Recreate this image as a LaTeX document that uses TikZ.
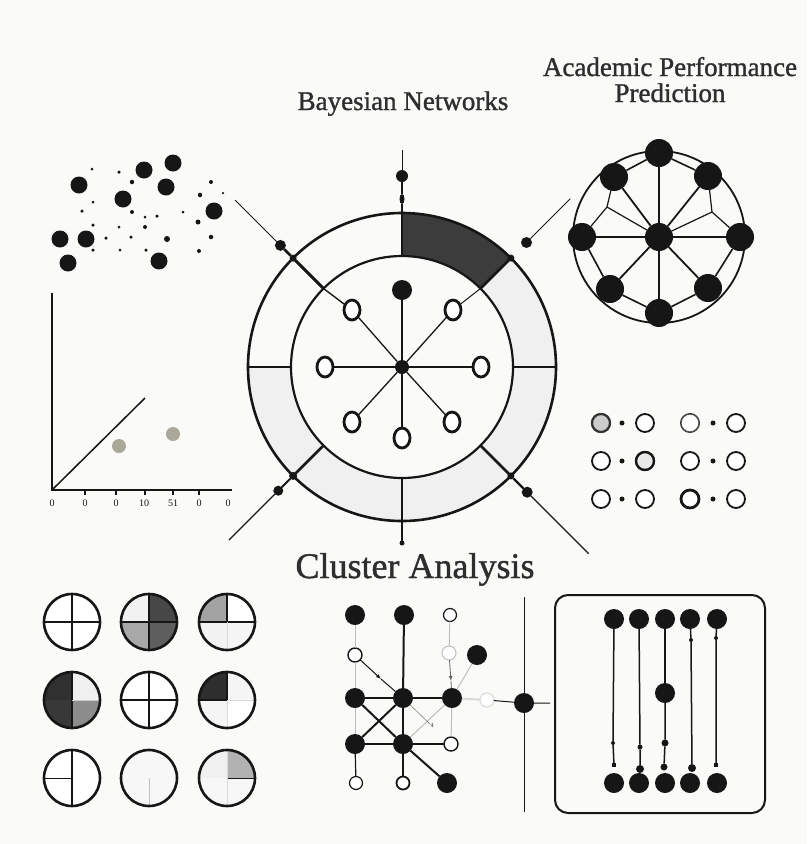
\documentclass[tikz,border=0pt]{standalone}
\usepackage{fontspec}
\setmainfont{Liberation Serif}
\newfontfamily\titlefont{Liberation Serif}[FakeBold=1.2]
\usetikzlibrary{shapes.geometric,arrows.meta}
\definecolor{bg}{HTML}{FAFAF8}
\definecolor{ink}{HTML}{161616}
\definecolor{txt}{HTML}{2E2E2E}
\definecolor{ringlight}{HTML}{F0F0F0}
\definecolor{ringdark}{HTML}{3C3C3C}
\definecolor{plotdot}{HTML}{A9A899}
\definecolor{faint}{HTML}{BDBDBD}
\newcommand\quadcirc[5]{%
  \fill[#2] (#1) -- ++(90:28) arc[start angle=90,end angle=180,radius=28] -- cycle;
  \fill[#3] (#1) -- ++(0:28) arc[start angle=0,end angle=90,radius=28] -- cycle;
  \fill[#4] (#1) -- ++(180:28) arc[start angle=180,end angle=270,radius=28] -- cycle;
  \fill[#5] (#1) -- ++(270:28) arc[start angle=270,end angle=360,radius=28] -- cycle;
}
\begin{document}
\begin{tikzpicture}[x=1pt,y=1pt,
  fdot/.style={circle,fill=ink,draw=none,inner sep=0pt,outer sep=0pt,minimum size=#1},
  odot/.style={circle,draw=ink,fill=white,inner sep=0pt,outer sep=0pt,line width=1.8pt,minimum size=#1},
  oval/.style={ellipse,draw=ink,fill=white,line width=2.8pt,minimum width=16pt,minimum height=20pt,inner sep=0pt,outer sep=0pt},
  thickedge/.style={draw=ink,line width=2pt},
  thinedge/.style={draw=ink,line width=1pt},
  faintedge/.style={draw=faint,line width=1pt},
  title/.style={text=txt,inner sep=0pt,anchor=base},
  arr/.style={-{Latex[length=5pt,width=4pt]}}
]
\fill[bg] (0,0) rectangle (807,-844);
\useasboundingbox (0,0) rectangle (807,-844);

% ---------- titles
\node[title,font=\titlefont\fontsize{27}{27}\selectfont] (tbayes) at (403,-110) {Bayesian Networks};
\node[title,font=\titlefont\fontsize{27}{27}\selectfont] (tacad1) at (670,-76) {Academic Performance};
\node[title,font=\titlefont\fontsize{27}{27}\selectfont] (tacad2) at (670,-102) {Prediction};
\node[title,font=\titlefont\fontsize{36}{36}\selectfont] (tclus) at (415,-578) {Cluster Analysis};

% ---------- scatter (top left)
\foreach \x/\y [count=\i] in {79/185,144/170,173/163,166/187,123/199,214/211,60/239,86/239,68/263,159/261}
  \node[fdot=17pt] (sc\i) at (\x,-\y) {};
\foreach \x/\y/\s [count=\i] in {92/169/3,119/172/3.5,132/182/4.5,211/182/4,200/195/4.5,93/202/3,82/211/3.5,132/212/4,157/216/3.5,183/212/3,93/225/3.5,119/227/3,145/227/4,198/222/5,211/237/4.5,106/238/3.5,131/237/3.5,167/239/6,93/250/3.5,120/250/3,146/250/3.5,199/251/4,145/217/3,223/193/2.5}
  \node[fdot=\s pt] (ss\i) at (\x,-\y) {};

% ---------- left plot
\coordinate (po) at (52,-490);
\coordinate (pyt) at (52,-293);
\coordinate (pxe) at (232,-490);
\coordinate (pdg) at (145,-398);
\draw[ink,line width=2.6pt] (pyt) -- (po) -- (pxe);
\draw[ink,line width=1.5pt] (po) -- (pdg);
\foreach \x in {85,116,145,173,199} \draw[ink,line width=1.2pt] (\x,-490) -- (\x,-495);
\foreach \x/\t [count=\i] in {52/0,85/0,116/0,144/10,173/51,199/0,228/0}
  \node[text=ink,font=\fontsize{10}{10}\selectfont,inner sep=0pt] (tick\i) at (\x,-503) {\t};
\node[circle,fill=plotdot,inner sep=0pt,minimum size=14pt] (pd1) at (119,-446) {};
\node[circle,fill=plotdot,inner sep=0pt,minimum size=14pt] (pd2) at (173,-434) {};

% ---------- central ring
\begin{scope}[shift={(402,-367)}]
  \fill[ringlight] (-180:154) arc[start angle=-180,end angle=45,radius=154] -- (45:111) arc[start angle=45,end angle=-180,radius=111] -- cycle;
  \fill[ringdark] (45:154) arc[start angle=45,end angle=90,radius=154] -- (90:111) arc[start angle=90,end angle=45,radius=111] -- cycle;
  \draw[ink,line width=2.6pt] (0,0) circle[radius=154];
  \draw[ink,line width=2.2pt] (0,0) circle[radius=111];
  \foreach \a in {0,90,180,270} \draw[ink,line width=1.4pt] (\a:111) -- (\a:154);
  \foreach \a in {45,135,225,315} \draw[ink,line width=2.5pt] (\a:111) -- (\a:154);
\end{scope}

\node[fdot=14pt] (hub) at (402,-367) {};
\node[fdot=20pt] (ntop) at (402,-290) {};
\node[oval] (nul) at (352,-310) {};
\node[oval] (nur) at (453,-310) {};
\node[oval] (nl) at (325,-367) {};
\node[oval] (nr) at (481,-367) {};
\node[oval] (nll) at (352,-422) {};
\node[oval] (nlr) at (452,-422) {};
\node[oval] (nb) at (402,-438) {};
\foreach \n in {ntop,nul,nur,nl,nr,nll,nlr,nb} \draw[ink,line width=1.3pt] (hub) -- (\n);

\coordinate (urin) at (480.5,-288.5);
\coordinate (ulin) at (323.5,-288.5);
\draw[ink,line width=1pt] (nur) -- (urin);
\draw[ink,line width=1.4pt] (nul) -- (ulin);

% top
\coordinate (ringT) at (402,-213);
\node[ellipse,fill=ink,inner sep=0pt,minimum width=5pt,minimum height=10pt] (tsm) at (402,-199) {};
\node[fdot=12pt] (tdot) at (402,-176) {};
\coordinate (tend) at (402,-150);
\draw[ink,line width=2pt] (ringT) -- (tsm) -- (tdot);
\draw[ink,line width=0.8pt] (tdot) -- (tend);
% upper left
\node[fdot=7pt] (ulj) at (293.1,-258.1) {};
\node[fdot=11pt] (uldot) at (280.4,-245.4) {};
\coordinate (ulend) at (235.1,-200.1);
\draw[ink,line width=2.5pt] (ulin) -- (ulj) -- (uldot);
\draw[ink,line width=1pt] (uldot) -- (ulend);
% upper right
\node[fdot=7pt] (urj) at (510.9,-258.1) {};
\node[fdot=11pt] (urdot) at (526.5,-242.5) {};
\coordinate (urend) at (570.3,-198.7);
\draw[ink,line width=1pt] (urdot) -- (urend);
% lower left
\node[fdot=8pt] (llj) at (293.1,-475.9) {};
\node[fdot=10pt] (lldot) at (278.3,-490.7) {};
\coordinate (llend) at (229,-540);
\draw[ink,line width=2pt] (llj) -- (lldot);
\draw[ink,line width=1.2pt] (lldot) -- (llend);
% lower right
\node[fdot=7pt] (lrj) at (510.9,-475.9) {};
\node[fdot=11pt] (lrdot) at (527.2,-492.2) {};
\coordinate (lrend) at (588.7,-553.7);
\draw[ink,line width=2.2pt] (lrj) -- (lrdot);
\draw[ink,line width=1.2pt] (lrdot) -- (lrend);
% bottom
\coordinate (ringB) at (402,-521);
\node[fdot=5pt] (bdot) at (402,-543) {};
\draw[ink,line width=1.5pt] (ringB) -- (bdot);

% ---------- top right network
\draw[ink,line width=1.8pt] (659,-237) circle[radius=86];
\node[fdot=28pt] (pc) at (659,-237) {};
\node[fdot=28pt] (pt) at (659,-153) {};
\node[fdot=28pt] (pul) at (614,-177) {};
\node[fdot=28pt] (pur) at (708,-176) {};
\node[fdot=28pt] (pl) at (582,-237) {};
\node[fdot=28pt] (pr) at (740,-237) {};
\node[fdot=28pt] (pll) at (610,-289) {};
\node[fdot=28pt] (plr) at (708,-288) {};
\node[fdot=28pt] (pb) at (659,-313) {};
\coordinate (wl) at (607,-207);
\coordinate (wr) at (712,-212);
\foreach \n in {pt,pul,pur,pl,pr,pll,plr,pb} \draw[ink,line width=1.8pt] (pc) -- (\n);
\draw[ink,line width=1.6pt] (pt) -- (pul);
\draw[ink,line width=1.6pt] (pt) -- (pur);
\draw[ink,line width=1.6pt] (pl) -- (pll);
\draw[ink,line width=1.6pt] (pll) -- (pb);
\draw[ink,line width=1.6pt] (pb) -- (plr);
\draw[ink,line width=1.6pt] (plr) -- (pr);
\draw[ink,line width=1.2pt] (pul) -- (wl) -- (pl);
\draw[ink,line width=1.2pt] (wl) -- (pc);
\draw[ink,line width=1.2pt] (pur) -- (wr) -- (pr);
\draw[ink,line width=1.2pt] (wr) -- (pc);

% ---------- right grid of circles
\foreach \y [count=\r] in {423,461,499}{
  \foreach \x [count=\c] in {601,645,690,736}
    \node[odot=18pt] (g\r\c) at (\x,-\y) {};
  \node[fdot=5pt] (gd\r a) at (622,-\y) {};
  \node[fdot=5pt] (gd\r b) at (713,-\y) {};
}
\node[odot=18pt,fill=black!20,draw=black!80,line width=2.2pt] (g11x) at (601,-423) {};
\node[odot=18pt,draw=black!70,line width=1.2pt] (g13x) at (690,-423) {};
\node[odot=18pt,fill=black!9,line width=2.4pt] (g22x) at (645,-461) {};
\node[odot=18pt,line width=2.8pt] (g33x) at (690,-499) {};

% ---------- bottom left quadrant circles
\quadcirc{149,-622}{black!5}{black!72}{black!34}{black!63}
\quadcirc{227,-622}{black!36}{white}{black!5}{black!4}
\quadcirc{72,-700}{black!81}{black!6}{black!78}{black!45}
\quadcirc{227,-700}{black!82}{black!4}{black!4}{white}
\quadcirc{149,-778}{black!3}{black!3}{black!3}{black!3}
\quadcirc{227,-778}{black!6}{black!30}{black!3}{black!3}
\quadcirc{72,-622}{white}{white}{white}{white}
\quadcirc{149,-700}{white}{white}{white}{white}
\quadcirc{72,-778}{white}{white}{white}{white}
% cross lines
\draw[ink,line width=2.4pt] (72,-594) -- (72,-650) (44,-622) -- (100,-622);
\draw[ink,line width=1.2pt] (149,-594) -- (149,-650) (121,-622) -- (177,-622);
\draw[ink,line width=2pt] (227,-594) -- (227,-622) (199,-622) -- (255,-622);
\draw[black!15,line width=0.6pt] (227,-622) -- (227,-650);
\draw[ink,line width=2pt] (72,-672) -- (72,-728);
\draw[black!20,line width=0.6pt] (72,-700) -- (100,-700);
\draw[ink,line width=2.2pt] (149,-672) -- (149,-728) (121,-700) -- (177,-700);
\draw[ink,line width=2pt] (227,-672) -- (227,-700) (199,-700) -- (227,-700);
\draw[black!15,line width=0.6pt] (227,-700) -- (227,-728) (227,-700) -- (255,-700);
\draw[ink,line width=2pt] (72,-750) -- (72,-806);
\draw[ink,line width=1pt] (44,-778) -- (72,-778);
\draw[black!25,line width=0.8pt] (149,-778) -- (149,-806);
\draw[ink,line width=1pt] (227,-778) -- (255,-778);
\draw[black!15,line width=0.6pt] (227,-750) -- (227,-806);
\foreach \x in {72,149,227} \foreach \y in {622,700,778}
  \draw[ink,line width=2.6pt] (\x,-\y) circle[radius=28];

% ---------- bottom middle graph
\node[fdot=20pt] (ga) at (355,-615) {};
\node[fdot=20pt] (gb) at (404,-615) {};
\node[odot=13pt,line width=1.2pt] (gc) at (450,-615) {};
\node[odot=14pt,line width=1.4pt] (gd) at (355,-655) {};
\node[odot=14pt,draw=black!25,line width=1pt] (ge) at (449,-653) {};
\node[fdot=20pt] (gf) at (477,-655) {};
\node[fdot=20pt] (gg) at (355,-698) {};
\node[fdot=20pt] (gh) at (403,-698) {};
\node[fdot=20pt] (gi) at (452,-698) {};
\node[odot=14pt,draw=black!12,line width=1.4pt] (gj) at (487,-700) {};
\node[fdot=20pt] (gk) at (524,-703) {};
\node[fdot=20pt] (gl) at (355,-744) {};
\node[fdot=20pt] (gm) at (403,-744) {};
\node[odot=14pt,line width=1.4pt] (gn) at (451,-744) {};
\node[odot=13pt,line width=1.2pt] (go) at (356,-783) {};
\node[odot=13pt,line width=1.8pt] (gp) at (403,-783) {};
\node[fdot=20pt] (gq) at (447,-783) {};
\node[text=black!60,font=\fontsize{6}{6}\selectfont\bfseries,inner sep=0pt] (gfour) at (432,-726) {4};
\coordinate (gkt) at (524,-597);
\coordinate (gkb) at (524,-812);
\coordinate (gkr) at (550,-703);
\coordinate (gdh) at (381,-679);
\coordinate (gei) at (451,-681);

\draw[faintedge] (ga) -- (gd);
\draw[faintedge] (gd) -- (gg);
\draw[faintedge] (gg) -- (gl);
\draw[faintedge] (gc) -- (ge);
\draw[faintedge] (gf) -- (gi);
\draw[faintedge] (gm) -- (gi);
\draw[faintedge] (gn) -- (gi);
\draw[draw=black!15,line width=2pt] (gi) -- (gj);
\draw[thinedge] (gj) -- (gk) -- (gkr);
\draw[thinedge] (gkt) -- (gk) -- (gkb);
\draw[thinedge,arr] (gd) -- (gdh);
\draw[thinedge] (gdh) -- (gh);
\draw[draw=black!60,line width=0.8pt,arr] (ge) -- (gei);
\draw[draw=black!60,line width=0.8pt] (gei) -- (gi);
\draw[draw=black!50,line width=0.6pt] (gh) -- (gfour);
\draw[thickedge] (gb) -- (gh);
\draw[thickedge] (gg) -- (gh);
\draw[thickedge] (gh) -- (gi);
\draw[thickedge] (gg) -- (gm);
\draw[thickedge] (gl) -- (gh);
\draw[thickedge] (gh) -- (gm);
\draw[thickedge] (gl) -- (gm);
\draw[thickedge] (gm) -- (gp);
\draw[thickedge] (gm) -- (gq);
\draw[ink,line width=1.2pt] (gm) -- (gn);
\draw[ink,line width=1.2pt] (gl) -- (go);

% ---------- bottom right box
\draw[ink,line width=2pt,rounded corners=13pt] (555,-595) rectangle (765,-813);
\foreach \x [count=\i] in {614,639,665,690,717}{
  \node[fdot=20pt] (bt\i) at (\x,-619) {};
  \node[fdot=20pt] (bb\i) at (\x,-783) {};
}
\node[fdot=20pt] (bm3) at (665,-693) {};
\node[rectangle,fill=ink,inner sep=0pt,minimum size=4pt] (bk1) at (614,-765) {};
\node[fdot=4pt] (bu1) at (613,-743) {};
\node[fdot=5pt] (bu2) at (640,-747) {};
\node[fdot=8pt] (bk2) at (640,-769) {};
\node[fdot=7pt] (bu3) at (665,-743) {};
\node[fdot=7pt] (bk3) at (664,-767) {};
\node[fdot=4pt] (bu4) at (691,-640) {};
\node[fdot=8pt] (bk4) at (692,-768) {};
\node[fdot=4pt] (bu5) at (716,-638) {};
\node[rectangle,fill=ink,inner sep=0pt,minimum size=4pt] (bk5) at (716,-765) {};
\draw[ink,line width=1.5pt] (bt1) -- (bu1) -- (bk1);
\draw[ink,line width=1.5pt] (bt2) -- (bu2) -- (bk2);
\draw[ink,line width=1.5pt] (bt3) -- (bm3);
\draw[ink,line width=1.5pt] (bm3) -- (bu3) -- (bk3);
\draw[ink,line width=1.5pt] (bt4) -- (bu4) -- (bk4);
\draw[ink,line width=1.5pt] (bt5) -- (bu5) -- (bk5);
\end{tikzpicture}
\end{document}
